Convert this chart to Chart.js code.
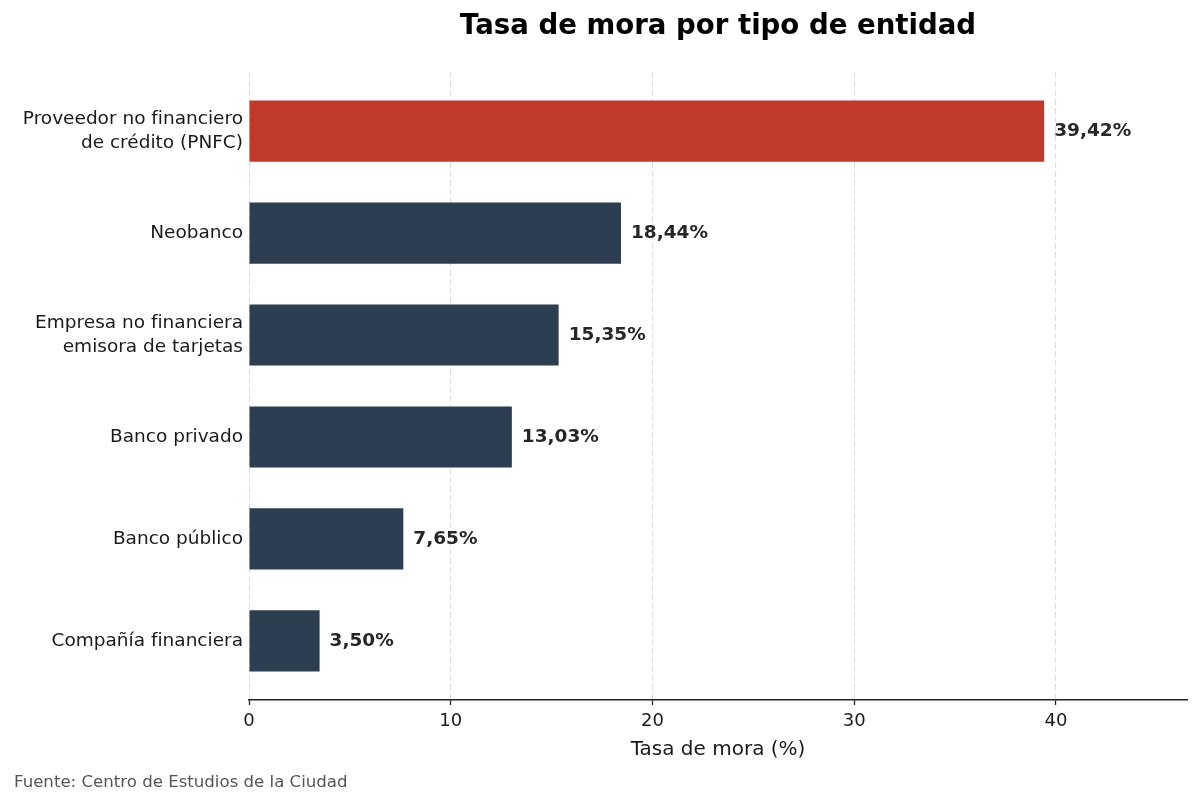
<!DOCTYPE html>
<html lang="es">
<head>
<meta charset="utf-8">
<title>Tasa de mora por tipo de entidad</title>
<script src="https://cdn.jsdelivr.net/npm/chart.js@4.4.1/dist/chart.umd.min.js"></script>
<style>
  html, body { margin: 0; padding: 0; background: #ffffff; }
  #wrap { width: 1200px; height: 805px; position: relative; }
</style>
</head>
<body>
<div id="wrap"><canvas id="graficaMora" width="1200" height="805"></canvas></div>
<script>
// datos del gráfico
const categorias = [
  "Proveedor no financiero\nde crédito (PNFC)",
  "Neobanco",
  "Empresa no financiera\nemisora de tarjetas",
  "Banco privado",
  "Banco público",
  "Compañía financiera"
];
const tasas = [39.42, 18.44, 15.35, 13.03, 7.65, 3.50];
const coloresBarras = ["#c0392b", "#2c3e50", "#2c3e50", "#2c3e50", "#2c3e50", "#2c3e50"];
const ticksX = [0, 10, 20, 30, 40];

const titulo = "Tasa de mora por tipo de entidad";
const fuente = "Fuente: Centro de Estudios de la Ciudad";
const FONT = "'DejaVu Sans', sans-serif";

document.addEventListener("DOMContentLoaded", function() {
  const ctx = document.getElementById('graficaMora').getContext('2d');

  // título, etiquetas de valor y fuente
  const extras = {
    id: 'extras',
    afterDatasetsDraw(chart) {
      const c = chart.ctx;
      const area = chart.chartArea;
      c.save();
      c.fillStyle = '#000';
      c.font = "bold 27.6px " + FONT;
      c.textAlign = 'center';
      c.textBaseline = 'middle';
      c.fillText(titulo, (area.left + area.right) / 2, 27);

      c.font = "bold 18.5px " + FONT;
      c.fillStyle = '#262626';
      c.textAlign = 'left';
      chart.getDatasetMeta(0).data.forEach(function(bar, i) {
        const txt = tasas[i].toFixed(2).replace('.', ',') + '%';
        c.fillText(txt, bar.x + 10, bar.y);
      });

      c.font = "16.6px " + FONT;
      c.fillStyle = '#555555';
      c.fillText(fuente, 14, 783);
      c.restore();
    }
  };

  new Chart(ctx, {
    type: 'bar',
    data: {
      datasets: [{
        data: tasas.map((v, i) => ({ x: v, y: i })),
        backgroundColor: coloresBarras,
        borderWidth: 0,
        barPercentage: 0.6,
        categoryPercentage: 1.0
      }]
    },
    options: {
      indexAxis: 'y',
      responsive: false,
      animation: false,
      layout: { padding: { top: 72, right: 13, left: 0, bottom: 0 } },
      plugins: {
        legend: { display: false },
        tooltip: { enabled: false },
        title: { display: false }
      },
      scales: {
        x: {
          type: 'linear',
          min: 0,
          max: 46.5,
          afterBuildTicks: function(scale) {
            scale.ticks = ticksX.map(v => ({ value: v }));
          },
          afterFit: function(scale) { scale.height = 105; },
          ticks: {
            color: '#1a1a1a',
            font: { family: FONT, size: 18 },
            padding: 6
          },
          grid: {
            color: '#dddddd',
            lineWidth: 1,
            tickColor: '#222',
            tickLength: 5,
            tickWidth: 1.3,
            tickBorderDash: []
          },
          border: { display: true, color: '#222', width: 1.4, dash: [6, 3] },
          title: {
            display: true,
            text: 'Tasa de mora (%)',
            color: '#1a1a1a',
            font: { family: FONT, size: 20 },
            padding: { top: 4, bottom: 43 }
          }
        },
        y: {
          type: 'linear',
          reverse: true,
          offset: false,
          min: -0.58,
          max: 5.58,
          afterBuildTicks: function(scale) {
            scale.ticks = categorias.map((c, i) => ({ value: i }));
          },
          afterFit: function(scale) { scale.width = 249; },
          ticks: {
            color: '#1a1a1a',
            font: { family: FONT, size: 18.5, lineHeight: 1.3 },
            padding: 6,
            callback: function(value) {
              const etiqueta = categorias[value];
              return etiqueta ? etiqueta.split('\n') : '';
            }
          },
          grid: { display: false, drawTicks: false },
          border: { display: false }
        }
      }
    },
    plugins: [extras]
  });
});
</script>
</body>
</html>
